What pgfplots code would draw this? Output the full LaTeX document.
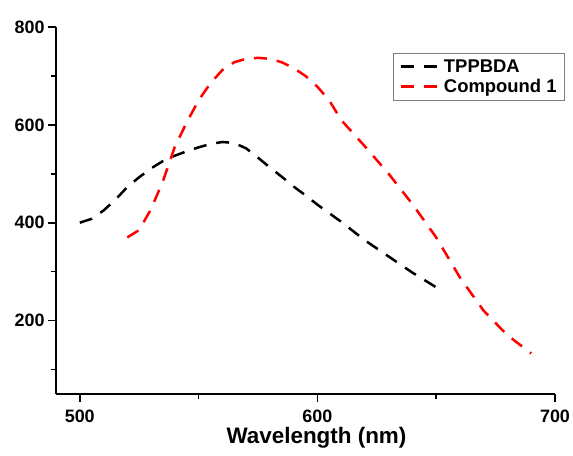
\documentclass[border=0pt]{standalone}
\usepackage{fontspec}
\setmainfont{Liberation Sans}
\usepackage{pgfplots}
\pgfplotsset{compat=1.18}
\begin{document}
\begin{tikzpicture}
\begin{axis}[
  scale only axis, width=499bp, height=367bp,
  xmin=490, xmax=700, ymin=50, ymax=800,
  axis x line*=bottom, axis y line*=left,
  axis line style={line width=1.6bp},
  xtick={500,600,700}, minor xtick={550,650},
  ytick={200,400,600,800}, minor ytick={100,300,500,700},
  tick style={line width=1.6bp, black},
  tick align=outside,
  major tick length=8bp, minor tick length=5bp,
  tick label style={font=\fontsize{18}{20}\selectfont\bfseries},
  xticklabel style={yshift=-4bp},
  /pgf/number format/assume math mode=true,
  /pgf/number format/1000 sep={},
  xlabel={Wavelength (nm)},
  xlabel style={font=\fontsize{22.5}{25}\selectfont\bfseries, xshift=11bp, yshift=2bp},
  legend style={at={(rel axis cs:1.02,0.929)}, anchor=north east, draw=gray, line width=0.8bp,
    font=\fontsize{18.5}{21}\selectfont\bfseries, row sep=1.5bp, inner xsep=6bp, inner ysep=4bp},
  legend cell align=left,
  legend image code/.code={\draw[#1] (0bp,0bp) -- (40bp,0bp);},
  every axis plot/.append style={line width=2.5bp, dash pattern=on 13bp off 10bp},
]
\addplot[black] coordinates {
(500,400) (505,408) (510,425) (515,447) (520,473) (525,493) (530,511) (535,526)
(540,537) (545,546) (550,554) (555,561) (560,565) (565,563) (570,552) (575,533)
(580,513) (585,494) (590,474) (595,456) (600,437) (610,402) (620,364) (630,331)
(640,298) (650,268)
};
\addlegendentry{TPPBDA}
\addplot[red] coordinates {
(520,370) (525,385) (530,428) (535,485) (540,555) (545,605) (550,650) (555,685)
(560,712) (565,728) (570,735) (575,737) (580,735) (585,728) (590,716) (595,700)
(600,678) (605,650) (610,610) (620,556) (630,500) (640,438) (650,370) (660,288)
(670,220) (680,170) (690,133)
};
\addlegendentry{Compound 1}
\end{axis}
\pgfresetboundingbox
\path (-56bp,-62bp) rectangle (517bp,394bp);
\end{tikzpicture}
\end{document}
